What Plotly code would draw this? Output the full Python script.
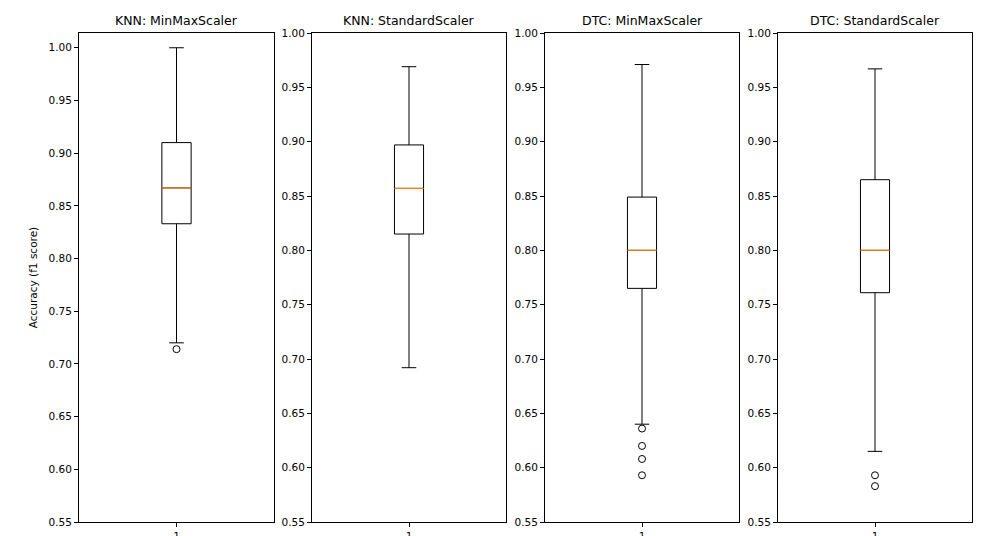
import plotly.graph_objects as go

titles = ["KNN: MinMaxScaler", "KNN: StandardScaler", "DTC: MinMaxScaler", "DTC: StandardScaler"]
q1 = [0.833, 0.815, 0.765, 0.761]
median = [0.867, 0.857, 0.800, 0.800]
q3 = [0.910, 0.897, 0.849, 0.865]
lower = [0.720, 0.692, 0.640, 0.615]
upper = [1.000, 0.969, 0.971, 0.967]
outliers = [[0.714], [], [0.636, 0.620, 0.608, 0.593], [0.593, 0.583]]
yranges = [[0.55, 1.014], [0.55, 1.0], [0.55, 1.0], [0.55, 1.0]]
yticks = [0.55, 0.60, 0.65, 0.70, 0.75, 0.80, 0.85, 0.90, 0.95, 1.00]

W, H = 995, 536
xpix = [(71, 266), (304, 498), (537, 731), (770, 964)]
ydom = [1 - 514 / H, 1 - 25 / H]

fig = go.Figure()
font = dict(family="DejaVu Sans", size=10.5, color="black")
for i in range(4):
    xa = "x" if i == 0 else f"x{i+1}"
    ya = "y" if i == 0 else f"y{i+1}"
    fig.add_trace(go.Box(
        x=[1], q1=[q1[i]], median=[median[i]], q3=[q3[i]],
        lowerfence=[lower[i]], upperfence=[upper[i]],
        width=0.15, whiskerwidth=0.5, fillcolor="white",
        line=dict(color="black", width=1), boxpoints=False,
        xaxis=xa, yaxis=ya, showlegend=False, hoverinfo="skip"))
    fig.add_trace(go.Scatter(
        x=[0.925, 1.075], y=[median[i], median[i]], mode="lines",
        line=dict(color="#ff7f0e", width=1.2), xaxis=xa, yaxis=ya, showlegend=False))
    if outliers[i]:
        fig.add_trace(go.Scatter(
            x=[1] * len(outliers[i]), y=outliers[i], mode="markers",
            marker=dict(symbol="circle-open", size=7, color="black", line=dict(width=1)),
            xaxis=xa, yaxis=ya, showlegend=False))
    axis_common = dict(showline=True, mirror=True, linecolor="black", linewidth=1,
                       ticks="outside", ticklen=4, tickcolor="black", showgrid=False,
                       zeroline=False, tickfont=font, automargin=False)
    fig.layout[f"xaxis{'' if i == 0 else i+1}"] = dict(
        domain=[xpix[i][0] / W, xpix[i][1] / W], range=[0.5, 1.5],
        tickvals=[1], ticktext=["1"], anchor=ya, **axis_common)
    fig.layout[f"yaxis{'' if i == 0 else i+1}"] = dict(
        domain=ydom, range=yranges[i], tickvals=yticks, tickformat=".2f",
        anchor=xa, **axis_common)
    fig.add_annotation(text=titles[i], x=(xpix[i][0] + xpix[i][1]) / 2 / W, y=1 - 22 / H,
                       xref="paper", yref="paper", xanchor="center", yanchor="bottom",
                       showarrow=False, font=dict(family="DejaVu Sans", size=12.5, color="black"))

fig.layout.yaxis.title = dict(text="Accuracy (f1 score)", font=font, standoff=8)
fig.update_layout(width=W, height=H, margin=dict(l=0, r=0, t=0, b=0, autoexpand=False),
                  plot_bgcolor="white", paper_bgcolor="white")
fig.write_html("out.html")
